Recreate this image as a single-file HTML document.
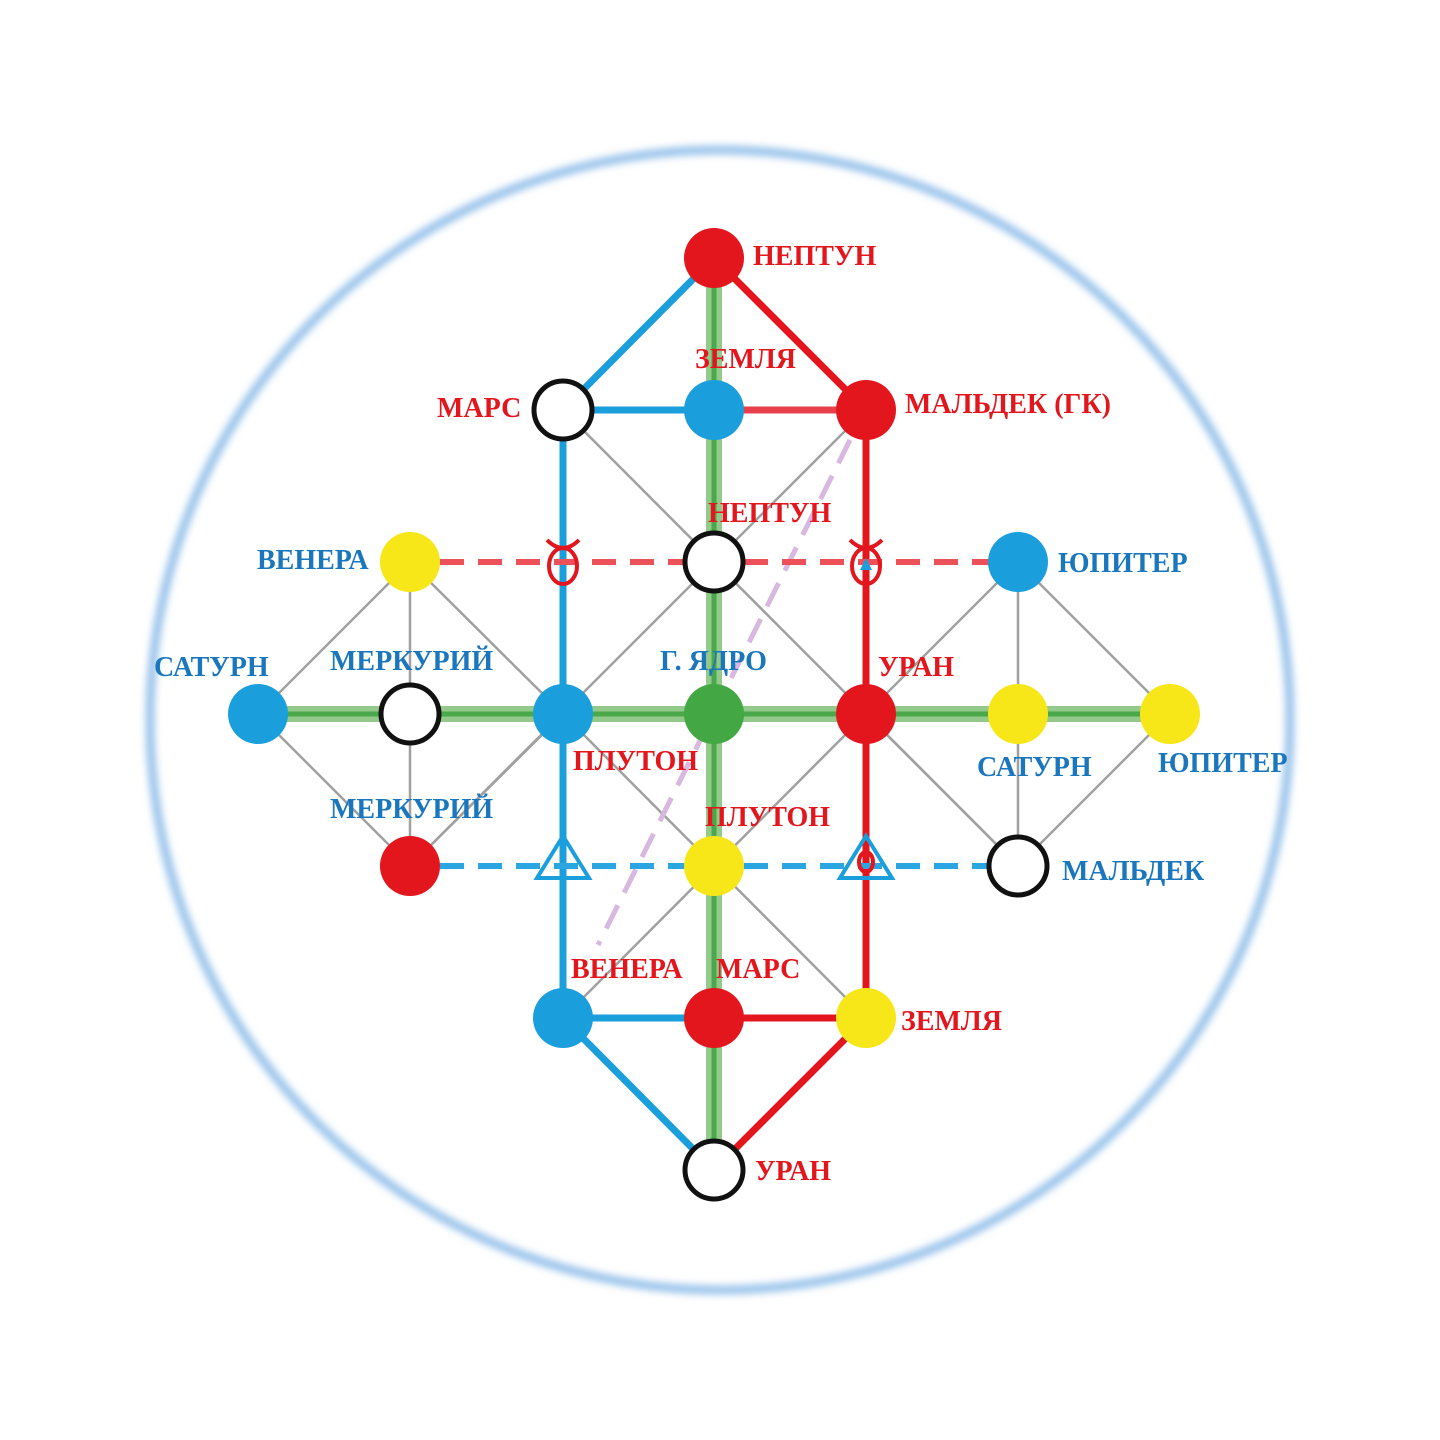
<!DOCTYPE html>
<html><head><meta charset="utf-8"><style>body{margin:0;background:#fff}svg{display:block}
text{font-family:"Liberation Serif",serif;font-weight:bold;font-size:28px}
.r{fill:#e3161e}.b{fill:#1a76bd}</style></head><body>
<svg width="1440" height="1440" viewBox="0 0 1440 1440">
<defs><filter id="bl" x="-10%" y="-10%" width="120%" height="120%"><feGaussianBlur stdDeviation="4"/></filter></defs>
<circle cx="720" cy="720" r="570" fill="none" stroke="#8cbbe8" stroke-width="8" filter="url(#bl)"/>
<g stroke="#a0a0a0" stroke-width="2.5" fill="none">
<line x1="563" y1="410" x2="1018" y2="866"/><line x1="866" y1="410" x2="410" y2="866"/>
<line x1="563" y1="714" x2="866" y2="1018"/><line x1="866" y1="714" x2="563" y2="1018"/>
<polygon points="410,562 258,714 410,866 563,714"/><line x1="410" y1="562" x2="410" y2="866"/>
<polygon points="1018,562 866,714 1018,866 1170,714"/><line x1="1018" y1="562" x2="1018" y2="866"/>
</g>
<line x1="850" y1="440" x2="598" y2="945" stroke="#d8b8e0" stroke-width="5" stroke-dasharray="26,14"/>
<g stroke="#93c98a" stroke-width="16"><line x1="714" y1="258" x2="714" y2="1170"/><line x1="258" y1="714" x2="1170" y2="714"/></g>
<g stroke="#4aa84a" stroke-width="5"><line x1="714" y1="258" x2="714" y2="1170"/><line x1="258" y1="714" x2="1170" y2="714"/></g>
<g stroke="#1a9fdc" stroke-width="7" fill="none"><polyline points="714,258 563,410 714,410"/><line x1="563" y1="410" x2="563" y2="1018"/><polyline points="714,1018 563,1018 714,1170"/></g>
<g stroke="#e3161e" stroke-width="7" fill="none"><polyline points="714,258 866,410 866,1018 714,1018"/><line x1="866" y1="1018" x2="714" y2="1170"/></g>
<line x1="714" y1="410" x2="866" y2="410" stroke="#e8404a" stroke-width="7"/>
<line x1="440" y1="562" x2="1000" y2="562" stroke="#ec5058" stroke-width="6" stroke-dasharray="24,14"/>
<line x1="440" y1="866" x2="1000" y2="866" stroke="#2ca6e0" stroke-width="6" stroke-dasharray="24,14"/>
<g stroke="#e3161e" stroke-width="4" fill="none">
<ellipse cx="563" cy="566" rx="14" ry="18"/><path d="M547,540 Q563,556 579,540"/>
<ellipse cx="866" cy="566" rx="14" ry="18"/><path d="M850,540 Q866,556 882,540"/>
<ellipse cx="866" cy="862" rx="7" ry="10"/></g>
<path d="M860,570 L866,558 L872,570Z" fill="#1a9fdc"/>
<g stroke="#1a9fdc" stroke-width="4" fill="none"><path d="M563,836 L537,878 L589,878Z"/><path d="M866,836 L840,878 L892,878Z"/></g>
<g stroke="#111" stroke-width="5">
<circle cx="714" cy="258" r="30" fill="#e3161e" stroke="none"/>
<circle cx="563" cy="410" r="29" fill="#fff"/><circle cx="714" cy="410" r="30" fill="#1a9fdc" stroke="none"/><circle cx="866" cy="410" r="30" fill="#e3161e" stroke="none"/>
<circle cx="410" cy="562" r="30" fill="#f7e718" stroke="none"/><circle cx="714" cy="562" r="29" fill="#fff"/><circle cx="1018" cy="562" r="30" fill="#1a9fdc" stroke="none"/>
<circle cx="258" cy="714" r="30" fill="#1a9fdc" stroke="none"/><circle cx="410" cy="714" r="29" fill="#fff"/><circle cx="563" cy="714" r="30" fill="#1a9fdc" stroke="none"/><circle cx="714" cy="714" r="30" fill="#43a843" stroke="none"/><circle cx="866" cy="714" r="30" fill="#e3161e" stroke="none"/><circle cx="1018" cy="714" r="30" fill="#f7e718" stroke="none"/><circle cx="1170" cy="714" r="30" fill="#f7e718" stroke="none"/>
<circle cx="410" cy="866" r="30" fill="#e3161e" stroke="none"/><circle cx="714" cy="866" r="30" fill="#f7e718" stroke="none"/><circle cx="1018" cy="866" r="29" fill="#fff"/>
<circle cx="563" cy="1018" r="30" fill="#1a9fdc" stroke="none"/><circle cx="714" cy="1018" r="30" fill="#e3161e" stroke="none"/><circle cx="866" cy="1018" r="30" fill="#f7e718" stroke="none"/>
<circle cx="714" cy="1170" r="29" fill="#fff"/>
</g>
<text class="r" x="753" y="265">НЕПТУН</text>
<text class="r" x="695" y="368">ЗЕМЛЯ</text>
<text class="r" x="437" y="417">МАРС</text>
<text class="r" x="905" y="413">МАЛЬДЕК (ГК)</text>
<text class="r" x="708" y="522">НЕПТУН</text>
<text class="b" x="257" y="569">ВЕНЕРА</text>
<text class="b" x="1058" y="572">ЮПИТЕР</text>
<text class="b" x="154" y="676">САТУРН</text>
<text class="b" x="330" y="670">МЕРКУРИЙ</text>
<text class="b" x="660" y="670">Г. ЯДРО</text>
<text class="r" x="878" y="676">УРАН</text>
<text class="r" x="573" y="770">ПЛУТОН</text>
<text class="b" x="977" y="776">САТУРН</text>
<text class="b" x="1158" y="772">ЮПИТЕР</text>
<text class="b" x="330" y="818">МЕРКУРИЙ</text>
<text class="r" x="705" y="826">ПЛУТОН</text>
<text class="b" x="1062" y="880">МАЛЬДЕК</text>
<text class="r" x="571" y="978">ВЕНЕРА</text>
<text class="r" x="716" y="978">МАРС</text>
<text class="r" x="901" y="1030">ЗЕМЛЯ</text>
<text class="r" x="755" y="1180">УРАН</text>
</svg></body></html>
